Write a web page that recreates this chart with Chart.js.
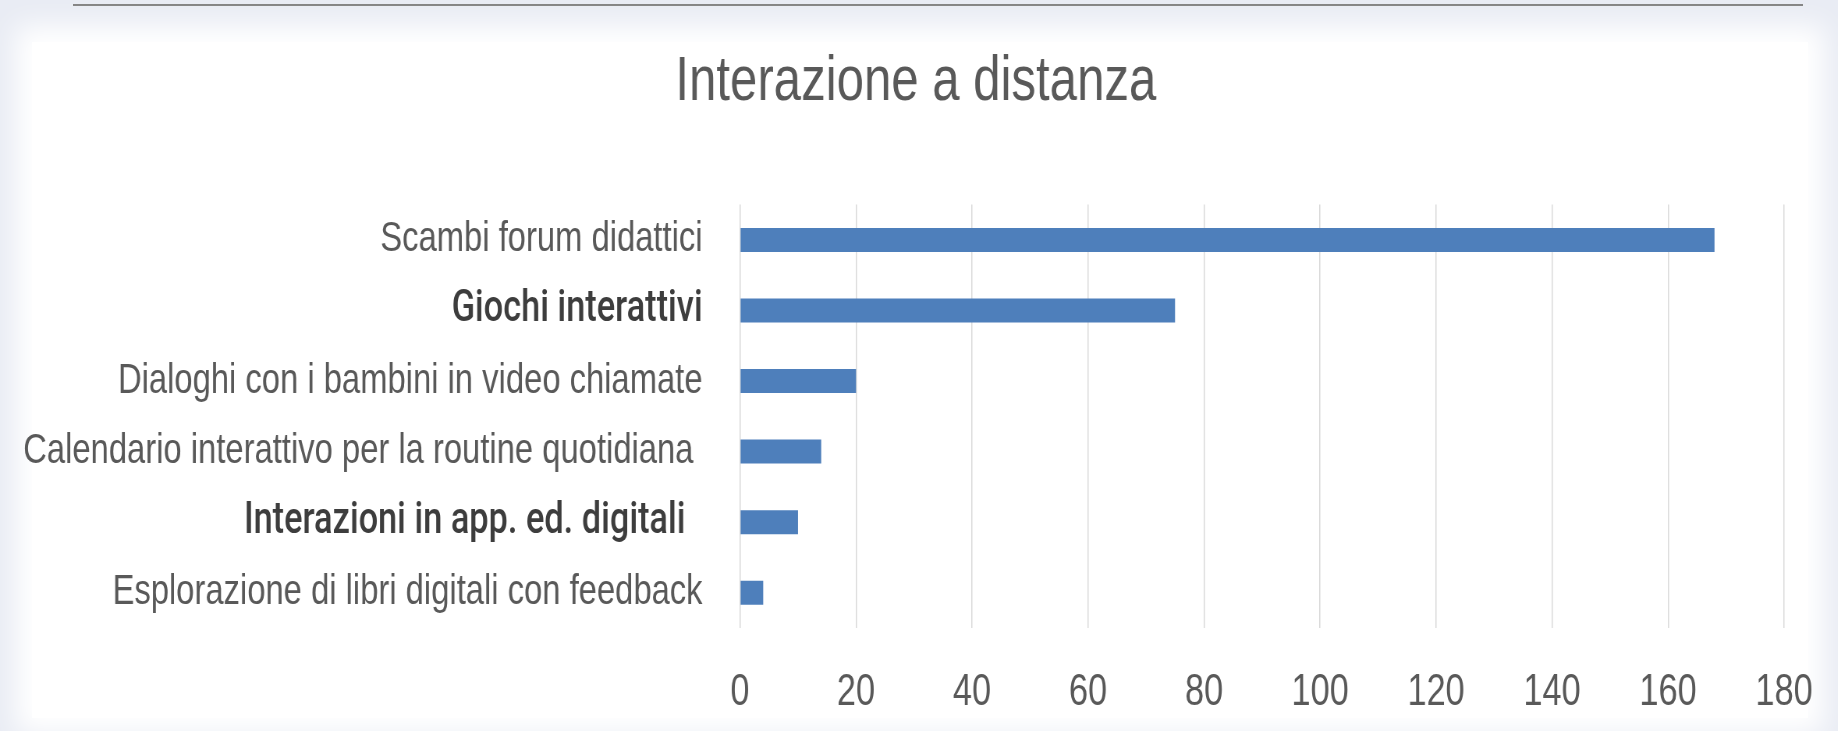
<!DOCTYPE html>
<html>
<head>
<meta charset="utf-8">
<script src="https://cdn.jsdelivr.net/npm/chart.js@4.4.1/dist/chart.umd.min.js"></script>
<style>
    html, body { margin: 0; padding: 0; overflow: hidden; }
    body { width: 1838px; height: 731px; background: #e9ecf4; position: relative; }
    #topline { position: absolute; left: 73px; top: 4px; width: 1730px; height: 2px; background: #7f7f7f; }
    #panel { position: absolute; left: 32px; top: 42px; width: 1776px; height: 676px; background: #fff;
             box-shadow: 0 0 26px 16px #ffffff; }
    #wrap { position: absolute; left: 0; top: 0; width: 2356px; height: 731px;
            transform: scaleX(0.7801); transform-origin: 0 0; }
</style>
</head>
<body>
<div id="topline"></div>
<div id="panel"></div>
<div id="wrap"><canvas id="interazione" width="2356" height="731"></canvas></div>
<script>
document.addEventListener("DOMContentLoaded", function () {

    const chartTitle = "Interazione a distanza";
    const categories = [
        "Scambi forum didattici",
        "Giochi interattivi",
        "Dialoghi con i bambini in video chiamate",
        "Calendario interattivo per la routine quotidiana ",
        "Interazioni in app. ed. digitali  ",
        "Esplorazione di libri digitali con feedback"
    ];
    const values = [168, 75, 20, 14, 10, 4];
    const xTicks = [0, 20, 40, 60, 80, 100, 120, 140, 160, 180];

    // the two labels that use a darker, heavier font in the original
    const darkLabels = [1, 4];

    // the title sits a bit right of the page centre in the original
    const titleShift = {
        id: "titleShift",
        afterLayout(chart) {
            if (chart.titleBlock) chart.titleBlock.left += 61;
        }
    };

    new Chart("interazione", {
        type: "bar",
        data: {
            labels: categories,
            datasets: [{
                data: values,
                backgroundColor: "#4e7fbb",
                borderWidth: 0,
                barPercentage: 0.34,
                categoryPercentage: 1
            }]
        },
        plugins: [titleShift],
        options: {
            indexAxis: "y",
            responsive: false,
            animation: false,
            layout: { padding: { left: 0, right: 69, top: 0, bottom: 0 } },
            plugins: {
                legend: { display: false },
                tooltip: { enabled: false },
                title: {
                    display: true,
                    text: chartTitle,
                    color: "#595959",
                    font: { family: "'Liberation Sans', Arial, sans-serif", size: 63, weight: "normal" },
                    padding: { top: 45, bottom: 84 }
                }
            },
            scales: {
                x: {
                    min: xTicks[0],
                    max: xTicks[xTicks.length - 1],
                    afterBuildTicks: axis => { axis.ticks = xTicks.map(v => ({ value: v })); },
                    afterFit: axis => { axis.height = 103; },
                    border: { display: false },
                    grid: { color: "#d9d9d9", lineWidth: 1.5, drawTicks: true, tickLength: 30, tickColor: "rgba(0,0,0,0)" },
                    ticks: {
                        color: "#595959",
                        padding: 8,
                        font: { family: "'Liberation Sans', Arial, sans-serif", size: 44 }
                    }
                },
                y: {
                    afterFit: axis => { axis.width = 948.6; },
                    border: { display: false },
                    grid: { display: false, drawTicks: false },
                    ticks: {
                        padding: 48,
                        color: ctx => darkLabels.includes(ctx.index) ? "#3d3d3d" : "#595959",
                        font: ctx => darkLabels.includes(ctx.index)
                            ? { family: "Roboto, sans-serif", size: 44, weight: 500 }
                            : { family: "'Liberation Sans', Arial, sans-serif", size: 42, weight: "normal" }
                    }
                }
            }
        }
    });
});
</script>
</body>
</html>
